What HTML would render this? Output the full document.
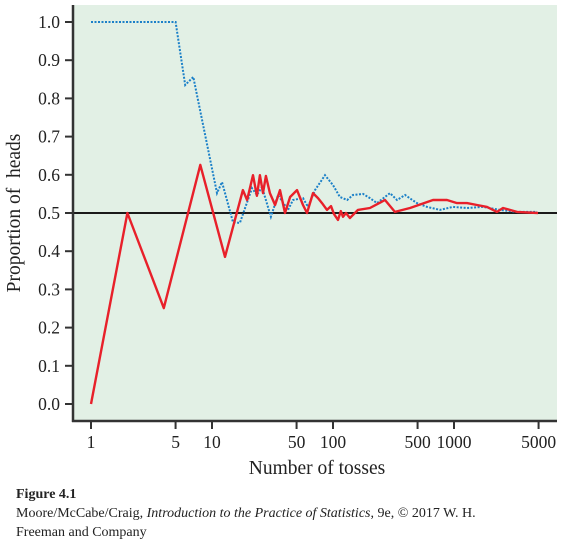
<!DOCTYPE html>
<html><head><meta charset="utf-8"><style>
html,body{margin:0;padding:0;background:#fff;}
body{width:564px;height:549px;overflow:hidden;position:relative;font-family:"Liberation Serif",serif;}
.cap{position:absolute;left:16px;font-size:14px;color:#222;}
</style></head><body>
<svg id="chart" width="564" height="480" style="position:absolute;left:0;top:0" xmlns="http://www.w3.org/2000/svg"></svg>
<div class="cap" style="top:487px;font-weight:bold;">Figure 4.1</div>
<div class="cap" style="top:505px;line-height:18.5px;width:548px;">Moore/McCabe/Craig, <i>Introduction to the Practice of Statistics</i>, 9e, © 2017 W. H.<br>Freeman and Company</div>
<script>
const xTicks=[1,5,10,50,100,500,1000,5000];
const yTicks=[0,0.1,0.2,0.3,0.4,0.5,0.6,0.7,0.8,0.9,1.0];
const redN=[1,2,4,8,12.8,18,19.5,21.8,23.5,24.9,26.4,27.9,30.1,33.2,36.5,40.1,44.2,50.4,56.5,61,68.4,75.2,81.1,89.2,96.2,102,110,116,121,128,138,161,202,269,325,433,670,875,1059,1281,1549,1874,2266,2541,3319,4943];
const redV=[0,.5,.251,.626,.385,.560,.534,.599,.545,.599,.552,.597,.552,.521,.560,.5,.542,.560,.521,.5,.552,.539,.526,.508,.518,.497,.482,.505,.490,.5,.487,.508,.513,.534,.503,.513,.534,.534,.526,.526,.521,.516,.503,.513,.503,.5];
const blueN=[1,5,6,7,11,12.1,14.9,17,21.4,23.5,25.9,30.7,35.1,42.5,46.7,56.5,62.1,71,85.9,100,114,131,146,177,202,231,296,338,394,494,598,766,982,1281,1738,2399,3319,4853];
const blueV=[1,1,.835,.856,.552,.581,.476,.474,.565,.547,.568,.490,.547,.508,.534,.539,.516,.560,.599,.573,.542,.534,.547,.550,.539,.526,.552,.534,.547,.526,.516,.508,.516,.513,.516,.508,.503,.503];
const svg=document.getElementById('chart');
const NS='http://www.w3.org/2000/svg';
const L=73,R=557,T=5,B=421;
function x(n){return 91+121*Math.log10(n);}
function y(v){return 404-382*v;}
function mk(tag,attrs,parent){const e=document.createElementNS(NS,tag);for(const k in attrs)e.setAttribute(k,attrs[k]);(parent||svg).appendChild(e);return e;}
const bg=mk('rect',{x:L,y:T,width:R-L,height:B-T,fill:'#e2f0e5'});


const ref=mk('line',{x1:L,x2:R,y1:y(0.5),y2:y(0.5),stroke:'#1a1a1a','stroke-width':2});


function pts(ns,vs){return ns.map((n,i)=>x(n).toFixed(1)+','+y(vs[i]).toFixed(1)).join(' ');}
const blue=mk('polyline',{points:pts(blueN,blueV),fill:'none',stroke:'#1b80c8','stroke-width':2,'stroke-dasharray':'2 1.5'});


const red=mk('polyline',{points:pts(redN,redV),fill:'none',stroke:'#e8202a','stroke-width':2.4,'stroke-linejoin':'round'});


const ya=mk('line',{x1:L,x2:L,y1:T,y2:B+1,stroke:'#333','stroke-width':2.5});


const xa=mk('line',{x1:L-1,x2:R,y1:B,y2:B,stroke:'#333','stroke-width':2.5});


yTicks.forEach(v=>{
  const t=mk('line',{x1:L-8,x2:L,y1:y(v),y2:y(v),stroke:'#333','stroke-width':2});
  
  
  const tx=mk('text',{x:L-13,y:y(v)+6,'text-anchor':'end','font-size':17.5,fill:'#222','font-family':'Liberation Serif, serif'});
  tx.textContent=v.toFixed(1);
  
  
});
xTicks.forEach(n=>{
  const t=mk('line',{x1:x(n),x2:x(n),y1:B,y2:B+8,stroke:'#333','stroke-width':2});
  
  
  const tx=mk('text',{x:x(n),y:448,'text-anchor':'middle','font-size':17.5,fill:'#222','font-family':'Liberation Serif, serif'});
  tx.textContent=String(n);
  
  
});
const xt=mk('text',{x:317,y:474,'text-anchor':'middle','font-size':19.5,fill:'#222','font-family':'Liberation Serif, serif'});
xt.textContent='Number of tosses';


const yt=mk('text',{x:0,y:0,'text-anchor':'middle','font-size':19.5,fill:'#222','font-family':'Liberation Serif, serif',transform:'translate(20,213) rotate(-90)'});
yt.textContent='Proportion of  heads';
yt.style.whiteSpace='pre';


</script>
</body></html>
